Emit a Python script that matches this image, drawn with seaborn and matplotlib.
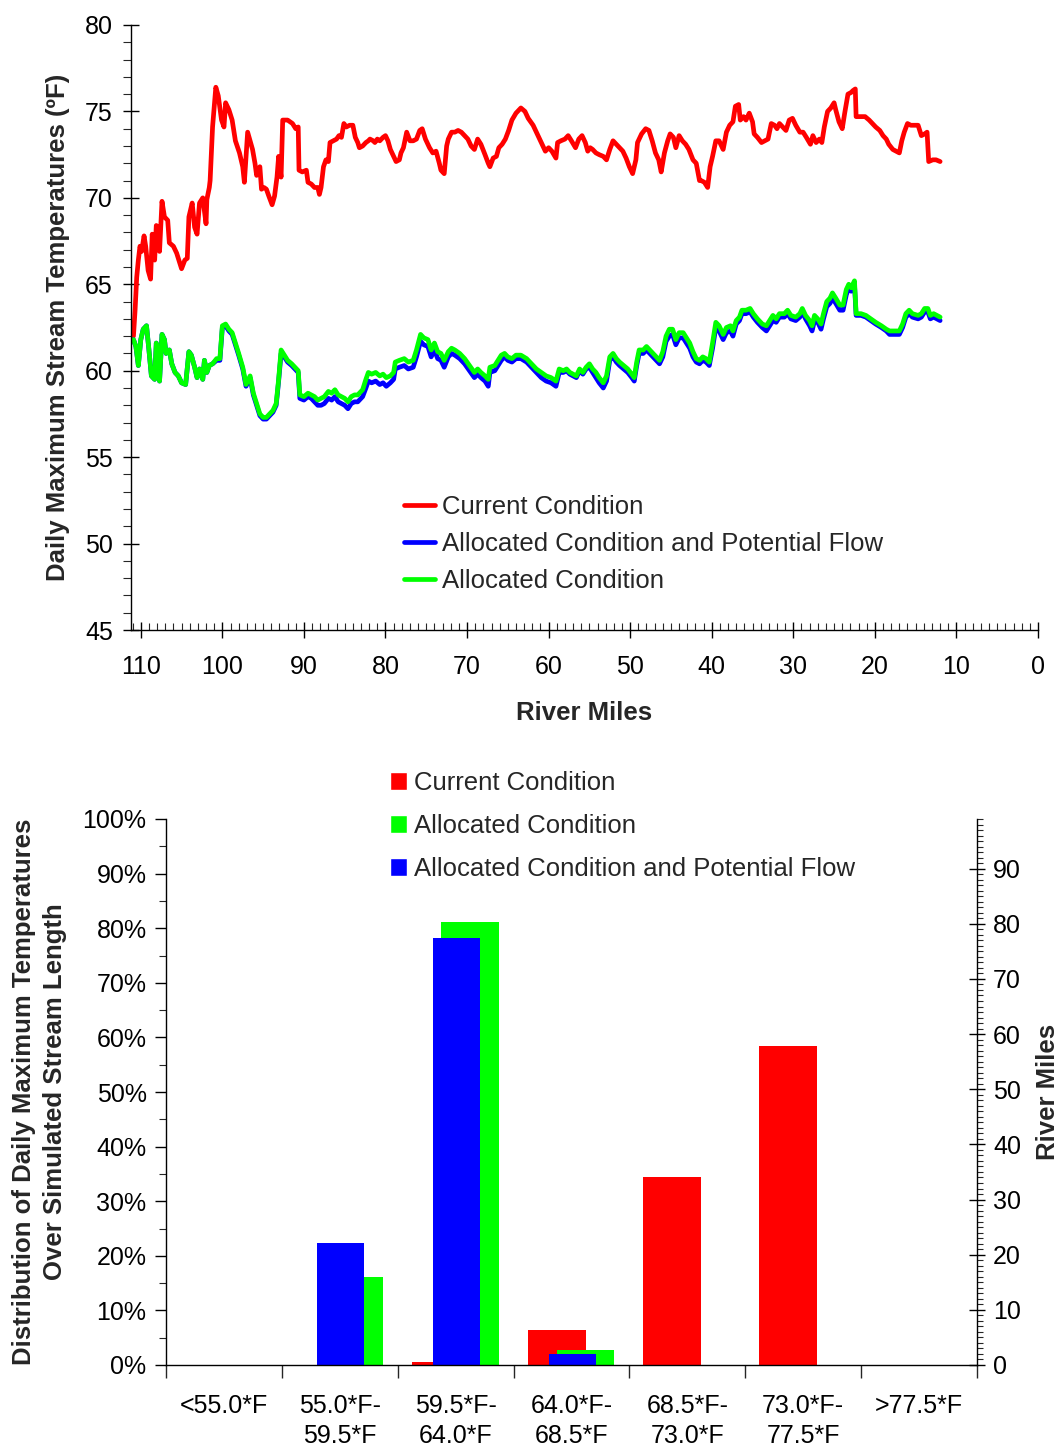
import matplotlib
matplotlib.use("Agg")
import matplotlib.pyplot as plt
from matplotlib.lines import Line2D
from matplotlib.patches import Patch
from matplotlib.ticker import MultipleLocator, FixedLocator, NullFormatter, FuncFormatter
import numpy as np
import pandas as pd
import seaborn as sns

# ---------------------------------------------------------------------------
# Longitudinal profile: daily maximum stream temperature (deg F) by river mile
# ---------------------------------------------------------------------------
current_miles = [
    110.9, 110.7, 110.5, 110.3, 110.1, 109.9, 109.6, 109.4, 109.1, 108.8,
    108.6, 108.3, 108.1, 107.8, 107.7, 107.4, 107.1, 106.7, 106.5, 106.0,
    105.6, 105.0, 104.6, 104.3, 104.1, 103.7, 103.4, 103.1, 102.8, 102.4,
    102.0, 101.9, 101.6, 101.5, 101.2, 100.8, 100.5, 100.1, 99.8, 99.6,
    99.2, 98.8, 98.4, 97.9, 97.5, 97.3, 97.1, 96.9, 96.6, 96.3,
    96.0, 95.8, 95.4, 95.2, 94.9, 94.6, 94.3, 93.9, 93.6, 93.3,
    93.1, 92.8, 92.6, 92.0, 91.4, 91.0, 90.7, 90.6, 90.2, 89.7,
    89.5, 89.1, 88.7, 88.3, 88.1, 87.9, 87.6, 87.3, 87.0, 86.8,
    86.4, 86.0, 85.7, 85.4, 85.1, 84.8, 84.4, 84.0, 83.7, 83.4,
    83.2, 82.8, 82.4, 82.1, 81.9, 81.5, 81.3, 81.0, 80.7, 80.3,
    80.0, 79.7, 79.4, 79.1, 78.7, 78.3, 78.1, 77.8, 77.4, 77.0,
    76.6, 76.2, 75.8, 75.5, 75.1, 74.6, 74.2, 73.8, 73.4, 73.2,
    72.8, 72.5, 72.3, 71.9, 71.5, 71.1, 70.7, 70.3, 69.9, 69.5,
    69.1, 68.7, 68.3, 67.8, 67.4, 67.2, 66.8, 66.4, 66.1, 65.7,
    65.3, 64.9, 64.5, 64.0, 63.4, 62.9, 62.5, 61.9, 61.5, 61.1,
    60.7, 60.4, 60.0, 59.6, 59.1, 58.9, 58.5, 58.0, 57.6, 57.2,
    56.7, 56.3, 55.9, 55.5, 55.2, 54.9, 54.6, 54.2, 53.8, 53.3,
    52.9, 52.5, 52.1, 51.7, 51.3, 50.9, 50.5, 50.1, 49.7, 49.3,
    49.1, 48.6, 48.1, 47.7, 47.3, 46.9, 46.5, 46.2, 45.8, 45.4,
    45.1, 44.7, 44.4, 44.0, 43.6, 43.2, 42.8, 42.3, 41.9, 41.5,
    41.3, 40.9, 40.5, 40.2, 39.9, 39.5, 39.1, 38.8, 38.6, 38.2,
    37.8, 37.4, 37.1, 36.7, 36.5, 36.1, 35.8, 35.4, 35.0, 34.8,
    34.4, 33.9, 33.5, 33.1, 32.7, 32.3, 32.0, 31.7, 31.3, 30.9,
    30.5, 30.1, 29.7, 29.2, 28.8, 28.4, 27.9, 27.6, 27.2, 26.8,
    26.5, 26.2, 25.8, 25.4, 25.0, 24.8, 24.4, 24.0, 23.7, 23.3,
    22.9, 22.7, 22.4, 22.3, 21.7, 21.2, 20.7, 20.3, 19.9, 19.4,
    19.0, 18.6, 18.3, 17.8, 17.4, 17.0, 16.7, 16.4, 16.0, 15.6,
    15.2, 14.7, 14.3, 13.9, 13.6, 13.4, 12.9, 12.5, 12.0,
]
current_temps = [
    62.0, 63.5, 65.4, 66.4, 67.2, 66.9, 67.8, 67.2, 65.8, 65.3,
    67.9, 66.4, 68.4, 68.3, 66.9, 69.8, 68.9, 68.7, 67.4, 67.2,
    66.8, 65.9, 66.4, 66.5, 68.9, 69.7, 68.3, 67.9, 69.7, 70.0,
    68.5, 69.9, 70.6, 71.0, 74.1, 76.4, 75.9, 74.5, 74.1, 75.5,
    75.1, 74.5, 73.3, 72.6, 71.8, 70.9, 72.4, 73.8, 73.3, 72.8,
    72.0, 71.3, 71.8, 70.5, 70.6, 70.5, 70.1, 69.6, 70.1, 71.2,
    72.4, 71.2, 74.5, 74.5, 74.3, 74.0, 74.1, 71.6, 71.5, 71.6,
    70.9, 70.8, 70.6, 70.6, 70.2, 70.6, 71.8, 72.2, 72.1, 73.2,
    73.3, 73.4, 73.6, 73.5, 74.3, 74.1, 74.2, 74.2, 73.5, 73.2,
    72.9, 73.0, 73.2, 73.3, 73.4, 73.3, 73.2, 73.4, 73.3, 73.5,
    73.6, 73.3, 72.8, 72.5, 72.1, 72.2, 72.6, 72.9, 73.8, 73.3,
    73.3, 73.4, 73.9, 74.0, 73.4, 72.9, 72.6, 72.7, 72.0, 71.6,
    71.4, 73.0, 73.4, 73.8, 73.8, 73.9, 73.8, 73.6, 73.4, 73.0,
    72.8, 73.4, 73.1, 72.5, 72.0, 71.8, 72.3, 72.4, 72.9, 73.1,
    73.4, 73.9, 74.5, 74.9, 75.2, 75.0, 74.6, 74.2, 73.8, 73.4,
    73.0, 72.7, 72.9, 72.7, 72.3, 73.2, 73.3, 73.4, 73.6, 73.3,
    72.9, 73.4, 73.6, 73.2, 72.7, 72.9, 72.8, 72.6, 72.5, 72.4,
    72.2, 72.8, 73.3, 73.1, 72.9, 72.7, 72.3, 71.8, 71.4, 72.2,
    73.2, 73.7, 74.0, 73.9, 73.3, 72.6, 72.2, 71.5, 72.6, 73.3,
    73.7, 73.5, 72.9, 73.6, 73.3, 73.1, 72.8, 72.2, 72.0, 71.0,
    71.0, 70.9, 70.6, 71.8, 72.4, 73.3, 73.3, 73.0, 72.8, 73.8,
    74.2, 74.4, 75.3, 75.4, 74.5, 74.7, 74.5, 74.9, 74.4, 73.7,
    73.5, 73.2, 73.3, 73.4, 74.3, 74.2, 74.0, 74.3, 74.1, 73.9,
    74.5, 74.6, 74.2, 73.8, 73.8, 73.5, 73.1, 73.6, 73.2, 73.4,
    73.2, 74.1, 75.0, 75.2, 75.5, 75.1, 74.4, 74.0, 74.9, 76.0,
    76.1, 76.2, 76.3, 74.7, 74.7, 74.7, 74.5, 74.3, 74.1, 73.9,
    73.6, 73.4, 73.1, 72.8, 72.7, 72.6, 73.3, 73.8, 74.3, 74.2,
    74.2, 74.2, 73.6, 73.7, 73.8, 72.1, 72.2, 72.2, 72.1,
]

# Both allocated scenarios are reported at the same river miles
allocated_miles = [
    110.9, 110.6, 110.3, 110.0, 109.7, 109.3, 109.0, 108.7, 108.5, 108.3,
    108.1, 107.9, 107.7, 107.4, 107.1, 106.9, 106.5, 106.2, 105.8, 105.4,
    105.0, 104.5, 104.1, 103.8, 103.4, 103.1, 102.8, 102.4, 102.2, 101.9,
    101.6, 101.2, 100.7, 100.3, 100.0, 99.6, 99.2, 98.8, 98.4, 98.0,
    97.5, 97.1, 96.6, 96.2, 95.8, 95.4, 95.0, 94.6, 94.2, 93.8,
    93.4, 93.1, 92.8, 92.4, 92.0, 91.5, 91.1, 90.7, 90.5, 90.0,
    89.5, 89.1, 88.7, 88.3, 87.9, 87.5, 87.0, 86.6, 86.2, 85.8,
    85.4, 85.0, 84.6, 84.2, 83.8, 83.4, 82.8, 82.4, 82.1, 81.7,
    81.2, 80.7, 80.3, 79.9, 79.4, 79.0, 78.8, 78.3,
    77.7, 77.2, 76.6, 76.2, 75.7, 75.3, 74.8, 74.4, 74.0, 73.6,
    73.2, 72.8, 72.3, 71.9, 71.5, 70.9, 70.3, 69.7, 69.1, 68.7,
    68.3, 67.8, 67.4, 67.2, 66.6, 66.2, 65.8, 65.4, 65.0, 64.5,
    64.0, 63.4, 62.7, 62.1, 61.5, 60.9, 60.3, 59.7, 59.1, 58.7,
    58.2, 57.8, 57.4, 57.0, 56.6, 56.2, 55.8, 55.4, 55.0, 54.6,
    54.2, 53.8, 53.3, 52.9, 52.5, 52.1, 51.7, 51.3, 50.8, 50.3,
    49.8, 49.5, 49.2, 48.9, 48.4, 48.0, 47.6, 47.2, 46.8, 46.4,
    46.0, 45.6, 45.2, 44.8, 44.4,
    44.0, 43.5, 43.1, 42.7, 42.3, 41.9, 41.5, 41.1, 40.7, 40.3,
    39.9, 39.5, 39.1, 38.6, 38.2, 37.7, 37.4, 37.0, 36.6, 36.3,
    35.8, 35.3, 34.9, 34.4, 33.8, 33.3, 32.9, 32.5, 32.1, 31.7,
    31.1, 30.7, 30.3, 29.7, 29.2, 28.9, 28.5, 28.0, 27.7, 27.4,
    27.0, 26.6, 26.3, 25.9, 25.5, 25.2, 24.8, 24.3, 23.9, 23.5,
    23.2, 22.9, 22.6, 22.5, 22.3, 21.7, 21.1, 20.5, 19.9, 19.2,
    18.6, 18.2, 17.6, 17.0, 16.6, 16.2, 15.8, 15.4, 14.7, 14.3,
    13.9, 13.5, 13.2, 12.8, 12.4, 12.0,
]
allocated_temps = [
    61.8, 61.4, 60.3, 61.8, 62.4, 62.6, 61.2, 59.7, 59.6, 59.5,
    61.6, 60.4, 59.4, 62.1, 61.8, 61.0, 61.2, 60.4, 59.9, 59.7,
    59.3, 59.2, 61.1, 60.9, 60.2, 59.6, 60.1, 59.5, 60.6, 59.9,
    60.3, 60.4, 60.7, 60.7, 62.6, 62.7, 62.4, 62.2, 61.6, 61.0,
    60.2, 59.2, 59.7, 58.7, 58.1, 57.5, 57.3, 57.3, 57.5, 57.7,
    58.1, 59.5, 61.2, 60.9, 60.6, 60.4, 60.2, 60.0, 58.6, 58.5,
    58.7, 58.6, 58.5, 58.3, 58.4, 58.5, 58.8, 58.7, 58.9, 58.6,
    58.5, 58.4, 58.2, 58.5, 58.6, 58.6, 58.9, 59.5, 59.9, 59.8,
    59.9, 59.7, 59.8, 59.6, 59.7, 59.9, 60.5, 60.6,
    60.7, 60.5, 60.6, 61.2, 62.1, 61.9, 61.8, 61.2, 61.6, 61.1,
    61.0, 60.6, 61.1, 61.3, 61.2, 61.0, 60.7, 60.3, 59.9, 60.1,
    59.9, 59.7, 59.5, 60.2, 60.3, 60.6, 60.9, 61.0, 60.8, 60.7,
    60.9, 60.9, 60.7, 60.4, 60.1, 59.9, 59.7, 59.6, 59.4, 60.1,
    60.0, 60.1, 59.9, 59.8, 59.7, 60.1, 59.9, 60.2, 60.4, 60.1,
    59.9, 59.6, 59.3, 59.7, 60.8, 61.0, 60.7, 60.5, 60.3, 60.1,
    59.8, 59.6, 60.5, 61.2, 61.2, 61.4, 61.2, 61.0, 60.8, 60.6,
    61.1, 62.0, 62.4, 62.4, 61.8,
    62.2, 62.2, 61.9, 61.6, 61.1, 60.7, 60.6, 60.8, 60.7, 60.5,
    61.6, 62.8, 62.6, 62.1, 62.5, 62.6, 62.3, 62.9, 63.1, 63.5,
    63.5, 63.6, 63.3, 63.0, 62.7, 62.6, 62.9, 63.2, 63.0, 63.3,
    63.3, 63.5, 63.2, 63.1, 63.3, 63.6, 63.2, 62.9, 62.6, 63.2,
    63.0, 62.7, 63.3, 64.0, 64.2, 64.5, 64.2, 63.8, 63.8, 64.7,
    65.0, 64.8, 65.1, 65.2, 63.3, 63.3, 63.2, 63.0, 62.8, 62.6,
    62.4, 62.3, 62.3, 62.3, 62.7, 63.3, 63.5, 63.3, 63.2, 63.3,
    63.6, 63.6, 63.2, 63.3, 63.2, 63.1,
]
allocated_flow_temps = [
    61.8, 61.4, 60.3, 61.8, 62.4, 62.6, 61.2, 59.7, 59.6, 59.5,
    61.6, 60.4, 59.4, 62.1, 61.8, 61.0, 61.2, 60.4, 59.9, 59.7,
    59.3, 59.2, 61.1, 60.9, 60.2, 59.6, 60.1, 59.5, 60.6, 59.9,
    60.3, 60.4, 60.6, 60.6, 62.5, 62.6, 62.3, 62.1, 61.5, 60.9,
    60.1, 59.1, 59.6, 58.6, 58.0, 57.4, 57.2, 57.2, 57.4, 57.6,
    58.0, 59.4, 61.0, 60.8, 60.5, 60.3, 60.1, 59.9, 58.4, 58.3,
    58.5, 58.4, 58.2, 58.0, 58.0, 58.1, 58.4, 58.3, 58.5, 58.2,
    58.1, 58.0, 57.8, 58.1, 58.2, 58.2, 58.5, 59.0, 59.4, 59.3,
    59.4, 59.2, 59.3, 59.1, 59.3, 59.5, 60.1, 60.2,
    60.3, 60.1, 60.2, 60.8, 61.7, 61.5, 61.4, 60.8, 61.2, 60.7,
    60.6, 60.2, 60.8, 61.0, 60.9, 60.7, 60.4, 60.0, 59.6, 59.8,
    59.6, 59.4, 59.1, 59.9, 60.0, 60.3, 60.6, 60.8, 60.6, 60.5,
    60.7, 60.7, 60.5, 60.2, 59.9, 59.6, 59.4, 59.3, 59.1, 59.9,
    59.9, 60.0, 59.8, 59.7, 59.6, 60.0, 59.8, 60.1, 60.2, 59.9,
    59.6, 59.3, 59.0, 59.4, 60.6, 60.8, 60.5, 60.3, 60.1, 59.9,
    59.6, 59.4, 60.3, 61.0, 61.0, 61.2, 61.0, 60.8, 60.6, 60.4,
    60.8, 61.7, 62.0, 62.1, 61.5,
    61.9, 61.9, 61.6, 61.3, 60.8, 60.5, 60.4, 60.6, 60.5, 60.3,
    61.3, 62.5, 62.3, 61.8, 62.2, 62.3, 62.0, 62.7, 62.9, 63.3,
    63.3, 63.4, 63.1, 62.8, 62.5, 62.3, 62.6, 62.9, 62.8, 63.1,
    63.1, 63.3, 63.0, 62.9, 63.1, 63.4, 63.0, 62.6, 62.3, 62.9,
    62.8, 62.4, 63.0, 63.7, 63.9, 64.2, 63.9, 63.5, 63.5, 64.4,
    64.8, 64.6, 64.9, 65.0, 63.2, 63.2, 63.1, 62.9, 62.7, 62.5,
    62.3, 62.1, 62.1, 62.1, 62.5, 63.1, 63.3, 63.1, 63.0, 63.1,
    63.4, 63.4, 63.0, 63.1, 63.0, 62.9,
]

# ---------------------------------------------------------------------------
# Share of simulated stream length in each temperature class (percent)
# ---------------------------------------------------------------------------
temp_classes = ["<55.0*F", "55.0*F-\n59.5*F", "59.5*F-\n64.0*F", "64.0*F-\n68.5*F",
                "68.5*F-\n73.0*F", "73.0*F-\n77.5*F", ">77.5*F"]
pct_current = [0.0, 0.0, 0.55, 6.4, 34.4, 58.4, 0.0]
pct_allocated = [0.0, 16.1, 81.1, 2.7, 0.0, 0.0, 0.0]
pct_allocated_flow = [0.0, 22.3, 78.2, 2.0, 0.0, 0.0, 0.0]
simulated_length_mi = 99.0

RED, GREEN, BLUE = "#FF0000", "#00FF00", "#0000FF"

sns.set_style("ticks")
plt.rcParams["font.family"] = ["Liberation Sans", "DejaVu Sans"]
plt.rcParams["axes.edgecolor"] = "black"
plt.rcParams["axes.linewidth"] = 1.0

TICK_FS = 18
LABEL_FS = 18.5
LEGEND_FS = 18.5
LW = 3.4

fig = plt.figure(figsize=(10.64, 14.46), dpi=100)
W, H = 1064.0, 1446.0

# ------------------------------- top panel --------------------------------
ax1 = fig.add_axes([131 / W, 1 - 630 / H, 907 / W, 605 / H])
sns.lineplot(x=current_miles, y=current_temps, color=RED, lw=LW,
             sort=False, estimator=None, ax=ax1)
sns.lineplot(x=allocated_miles, y=allocated_flow_temps, color=BLUE, lw=LW,
             sort=False, estimator=None, ax=ax1)
sns.lineplot(x=allocated_miles, y=allocated_temps, color=GREEN, lw=LW,
             sort=False, estimator=None, ax=ax1)

ax1.set_xlim(111.2, 0)
ax1.set_ylim(45, 80)
ax1.xaxis.set_major_locator(MultipleLocator(10))
ax1.xaxis.set_minor_locator(MultipleLocator(1))
ax1.yaxis.set_major_locator(MultipleLocator(5))
ax1.yaxis.set_minor_locator(MultipleLocator(1))
ax1.tick_params(axis="x", which="both", bottom=True, top=False)
ax1.tick_params(axis="y", which="both", left=True, right=False)
ax1.tick_params(axis="x", which="major", direction="inout", length=12, width=1,
                pad=12, labelsize=TICK_FS, colors="black")
ax1.tick_params(axis="x", which="minor", direction="in", length=5, width=0.8)
ax1.tick_params(axis="y", which="major", direction="inout", length=12, width=1,
                pad=7, labelsize=TICK_FS, colors="black")
ax1.tick_params(axis="y", which="minor", direction="out", length=6, width=0.8)
for side in ("top", "right"):
    ax1.spines[side].set_visible(False)
ax1.set_xlabel("River Miles", fontsize=LABEL_FS, fontweight="bold")
ax1.xaxis.set_label_coords(0.5, -0.117)
ax1.set_ylabel("Daily Maximum Stream Temperatures (\u00baF)", fontsize=LABEL_FS,
               fontweight="bold", va="center", ha="center")
ax1.yaxis.set_label_coords(-0.0805, 0.5)

line_handles = [Line2D([], [], color=RED, lw=LW),
                Line2D([], [], color=BLUE, lw=LW),
                Line2D([], [], color=GREEN, lw=LW)]
ax1.legend(line_handles,
           ["Current Condition", "Allocated Condition and Potential Flow",
            "Allocated Condition"],
           loc="upper left", bbox_to_anchor=(404 / W, 1 - 495 / H),
           bbox_transform=fig.transFigure, frameon=False, fontsize=LEGEND_FS,
           handlelength=1.2, handletextpad=0.28, labelspacing=0.5,
           borderpad=0, borderaxespad=0)

# ------------------------------ bottom panel ------------------------------
ax2 = fig.add_axes([166 / W, 1 - 1365 / H, 811 / W, 546 / H])
idx = np.arange(len(temp_classes))
series = [
    (pct_current, RED, -0.129, 0.50),
    (pct_allocated, GREEN, 0.121, 0.50),
    (pct_allocated_flow, BLUE, 0.005, 0.405),
]
for values, color, offset, width in series:
    frame = pd.DataFrame({"pos": idx + offset, "pct": values})
    sns.barplot(data=frame, x="pos", y="pct", native_scale=True, width=width,
                color=color, saturation=1, errorbar=None, linewidth=0, ax=ax2)

ax2.set_xlim(-0.5, len(temp_classes) - 0.5)
ax2.set_ylim(0, 100)
ax2.xaxis.set_major_locator(FixedLocator(np.arange(-0.5, len(temp_classes), 1.0)))
ax2.xaxis.set_major_formatter(NullFormatter())
ax2.xaxis.set_minor_locator(FixedLocator(idx))
ax2.xaxis.set_minor_formatter(FuncFormatter(lambda v, p: temp_classes[int(round(v))]))
ax2.tick_params(axis="x", which="both", bottom=True, top=False)
ax2.tick_params(axis="y", which="both", left=True, right=False)
ax2.tick_params(axis="x", which="major", direction="out", length=9, width=1)
ax2.tick_params(axis="x", which="minor", length=0, pad=21, labelsize=TICK_FS,
                colors="black")
for lab in ax2.xaxis.get_minorticklabels():
    lab.set_linespacing(1.3)
ax2.yaxis.set_major_locator(MultipleLocator(10))
ax2.yaxis.set_minor_locator(MultipleLocator(5))
ax2.yaxis.set_major_formatter(FuncFormatter(lambda v, p: f"{v:.0f}%"))
ax2.tick_params(axis="y", which="major", direction="out", length=8, width=1,
                pad=6, labelsize=TICK_FS, colors="black")
ax2.tick_params(axis="y", which="minor", direction="out", length=5, width=0.8)
for side in ("top", "right"):
    ax2.spines[side].set_visible(False)
ax2.set_xlabel("")
ax2.set_ylabel("Distribution of Daily Maximum Temperatures\nOver Simulated Stream Length",
               fontsize=LABEL_FS, fontweight="bold", va="center", ha="center",
               linespacing=1.4)
ax2.yaxis.set_label_coords(-0.156, 0.5)

ax2r = ax2.twinx()
ax2r.set_ylim(0, simulated_length_mi)
ax2r.yaxis.set_major_locator(MultipleLocator(10))
ax2r.yaxis.set_minor_locator(MultipleLocator(1))
ax2r.tick_params(axis="y", which="both", right=True, left=False)
ax2r.tick_params(axis="y", which="major", direction="inout", length=11, width=1,
                 pad=6, labelsize=TICK_FS, colors="black")
ax2r.tick_params(axis="y", which="minor", direction="out", length=4, width=0.8)
for side in ("top", "left", "bottom"):
    ax2r.spines[side].set_visible(False)
ax2r.spines["right"].set_visible(True)
ax2r.set_ylabel("River Miles", fontsize=LABEL_FS, fontweight="bold",
                va="center", ha="center", rotation=90)
ax2r.yaxis.set_label_coords(1.0875, 0.5)

bar_handles = [Patch(facecolor=RED), Patch(facecolor=GREEN), Patch(facecolor=BLUE)]
ax2.legend(bar_handles,
           ["Current Condition", "Allocated Condition",
            "Allocated Condition and Potential Flow"],
           loc="upper left", bbox_to_anchor=(390 / W, 1 - 771 / H),
           bbox_transform=fig.transFigure, frameon=False, fontsize=LEGEND_FS,
           handlelength=0.65, handleheight=0.65, handletextpad=0.3,
           labelspacing=0.74, borderpad=0, borderaxespad=0)

fig.savefig("out.png", dpi=100, facecolor="white")
